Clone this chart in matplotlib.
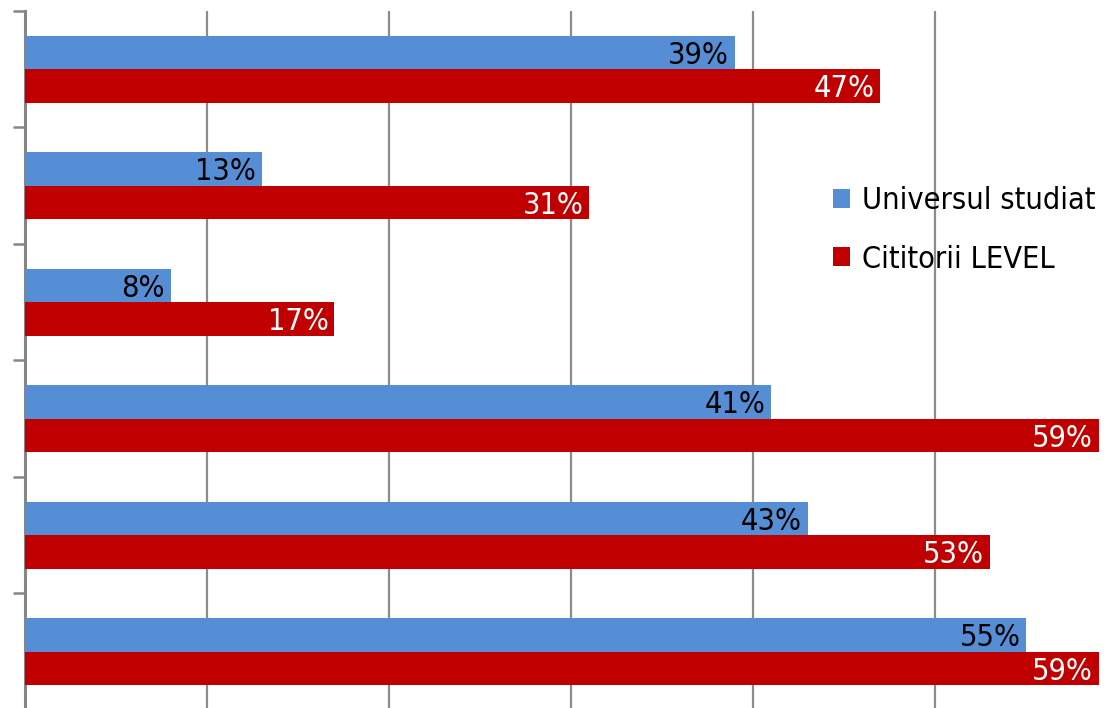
import matplotlib
matplotlib.use("Agg")
from matplotlib import pyplot as plt
import numpy as np

# date (de sus in jos)
universul = [39, 13, 8, 41, 43, 55]
level = [47, 31, 17, 59, 53, 59]
serii = ["Universul studiat", "Cititorii LEVEL"]
culori = ["#558ED5", "#C00000"]
culori_text = ["black", "white"]

plt.rcParams['font.family'] = ['DejaVu Sans']
plt.rcParams['font.stretch'] = 'condensed'

fig = plt.figure(figsize=(11.13, 7.08), dpi=100)
W, H = 1113, 708
ax = fig.add_axes([25 / W, 1 - 710 / H, (1117 - 25) / W, (710 - 11) / H])

y = np.arange(len(universul))
h = 0.288
for k, (vals, col, tcol) in enumerate(zip([universul, level], culori, culori_text)):
    pos = y - h / 2 if k == 0 else y + h / 2
    bars = ax.barh(pos, vals, height=h, color=col, label=serii[k], zorder=3)
    for b, v in zip(bars, vals):
        ax.annotate(f"{v}%", (b.get_width(), b.get_y() + b.get_height() / 2),
                    xytext=(-4, -2), textcoords="offset points",
                    ha="right", va="center", fontsize=22, color=tcol, zorder=4)

ax.set_xlim(0, 60)
ax.set_ylim(len(universul) - 0.5, -0.5)
ax.set_xticks(np.arange(0, 61, 10))
ax.set_xticklabels([])
ax.tick_params(axis="x", length=0)
ax.xaxis.grid(True, color="#8c8c8c", linewidth=1.6, zorder=0)
ax.set_axisbelow(True)

ax.set_yticks(np.arange(-0.5, len(universul), 1))
ax.set_yticklabels([])
ax.tick_params(axis="y", direction="out", length=9, width=1.8, color="#868686")

for s in ["top", "right", "bottom"]:
    ax.spines[s].set_visible(False)
ax.spines["left"].set_color("#868686")
ax.spines["left"].set_linewidth(2.2)

fig.legend(loc="center left", bbox_to_anchor=(821 / W, 1 - 230 / H), frameon=False,
           fontsize=22, handlelength=0.55, handleheight=0.55, handletextpad=0.4,
           labelspacing=0.95, borderaxespad=0)

fig.savefig("out.png", dpi=100)
plt.close()
